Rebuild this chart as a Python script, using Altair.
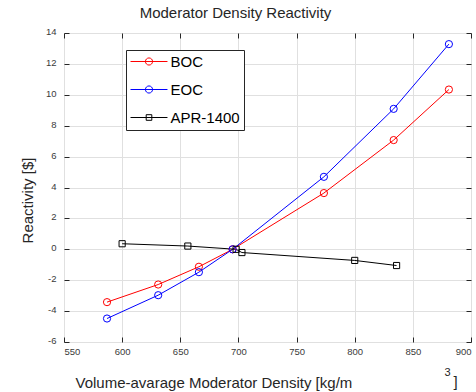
import altair as alt
import pandas as pd

# ---- data ----
series_names = ["BOC", "EOC", "APR-1400"]
series_colors = ["#ff0000", "#0000ff", "#000000"]

boc_density = [587, 631, 666, 695, 773.5, 833.5, 881]
boc_reactivity = [-3.42, -2.28, -1.13, 0.0, 3.64, 7.07, 10.34]

eoc_density = [587, 631, 666, 695, 773.5, 833.5, 881]
eoc_reactivity = [-4.48, -2.97, -1.48, 0.0, 4.69, 9.09, 13.28]

apr_density = [600, 656.5, 698, 703, 800, 836]
apr_reactivity = [0.36, 0.21, 0.0, -0.21, -0.72, -1.05]

x_ticks = [550, 600, 650, 700, 750, 800, 850, 900]
y_ticks = [-6, -4, -2, 0, 2, 4, 6, 8, 10, 12, 14]

title_text = "Moderator Density Reactivity"
x_title = "Volume-avarage Moderator Density [kg/m"
x_title_sup = "3"
x_title_close = "]"
y_title = "Reactivity [$]"

rows = []
for name, xs, ys in [("BOC", boc_density, boc_reactivity),
                     ("EOC", eoc_density, eoc_reactivity),
                     ("APR-1400", apr_density, apr_reactivity)]:
    for xv, yv in zip(xs, ys):
        rows.append({"series": name, "density": xv, "reactivity": yv})
df = pd.DataFrame(rows)

# ---- styling ----
W, H = 407, 309
FONT = "Liberation Sans"
AX = "#262626"
LBL = "#3a3a3a"
GRID = "#e0e0e0"

x_scale = alt.Scale(domain=[550, 900], nice=False, zero=False)
y_scale = alt.Scale(domain=[-6, 14], nice=False, zero=False)
color_scale = alt.Scale(domain=series_names, range=series_colors)

# legend glyphs: line segment with marker (unit = 7 px)
circle_leg = "M-2.64,0L2.64,0M0.51,0A0.51,0.51,0,1,1,-0.51,0A0.51,0.51,0,1,1,0.51,0Z"
square_leg = "M-2.64,0L2.64,0M-0.4,-0.4L0.4,-0.4L0.4,0.4L-0.4,0.4Z"
shape_scale = alt.Scale(domain=series_names, range=[circle_leg, circle_leg, square_leg])

hyphen_labels = "datum.value + ''"

x_main_axis = alt.Axis(
    orient="bottom", values=x_ticks, offset=-5, tickSize=5, tickColor=AX,
    domain=False, grid=True, gridColor=GRID, gridWidth=1,
    labelFontSize=9.5, labelColor=LBL, labelFont=FONT, labelPadding=4,
    labelExpr=hyphen_labels,
    title=x_title, titleFont=FONT, titleFontSize=15, titleFontWeight="normal",
    titleColor=AX, titleAlign="left", titleX=11, titleY=50, titleBaseline="alphabetic",
)
y_main_axis = alt.Axis(
    orient="left", values=y_ticks, offset=-5, tickSize=5, tickColor=AX,
    domain=False, grid=True, gridColor=GRID, gridWidth=1,
    labelFontSize=9.5, labelColor=LBL, labelFont=FONT, labelPadding=8,
    labelOffset=-1.5, labelExpr=hyphen_labels,
    title=y_title, titleFont=FONT, titleFontSize=15, titleFontWeight="normal",
    titleColor=AX, titleAngle=-90, titleAlign="center", titleBaseline="alphabetic",
    titleX=-37, titleY=167,
)
x_top_axis = alt.Axis(orient="top", values=x_ticks, offset=-5, tickSize=5, tickColor=AX,
                      domain=False, grid=False, labels=False, title=None)
y_right_axis = alt.Axis(orient="right", values=y_ticks, offset=-5, tickSize=5, tickColor=AX,
                        domain=False, grid=False, labels=False, title=None)

base = alt.Chart(df)

pad_expr = "datum.label + '" + "\u00a0" * 12 + "'"
leg = alt.Legend(title=None, labelExpr=pad_expr)

lines = base.mark_line(strokeWidth=1).encode(
    x=alt.X("density:Q", scale=x_scale, axis=x_main_axis),
    y=alt.Y("reactivity:Q", scale=y_scale, axis=y_main_axis),
    color=alt.Color("series:N", scale=color_scale, legend=leg),
    detail="series:N",
)

circles = base.transform_filter(alt.datum.series != "APR-1400").mark_point(
    shape="circle", size=52, strokeWidth=1, filled=False, opacity=1
).encode(
    x=alt.X("density:Q", scale=x_scale, axis=x_top_axis),
    y=alt.Y("reactivity:Q", scale=y_scale, axis=y_right_axis),
    color=alt.Color("series:N", scale=color_scale, legend=leg),
)

squares = base.transform_filter(alt.datum.series == "APR-1400").mark_point(
    shape="square", size=38, strokeWidth=1, filled=False, opacity=1
).encode(
    x=alt.X("density:Q", scale=x_scale, axis=None),
    y=alt.Y("reactivity:Q", scale=y_scale, axis=None),
    color=alt.Color("series:N", scale=color_scale, legend=leg),
)

legend_layer = base.transform_filter("false").mark_point(filled=False, opacity=1).encode(
    color=alt.Color("series:N", scale=color_scale, legend=leg),
    shape=alt.Shape("series:N", scale=shape_scale, legend=leg),
)

notes = alt.Chart(pd.DataFrame({"t": [x_title_sup]})).mark_text(
    font=FONT, fontSize=11, color=AX, align="center", baseline="alphabetic"
).encode(text="t:N", x=alt.value(383.5), y=alt.value(343))

notes2 = alt.Chart(pd.DataFrame({"t": [x_title_close]})).mark_text(
    font=FONT, fontSize=15, color=AX, align="center", baseline="alphabetic"
).encode(text="t:N", x=alt.value(391.5), y=alt.value(354))

chart = alt.layer(legend_layer, lines, circles, squares, notes, notes2).resolve_axis(
    x="independent", y="independent"
).properties(
    width=W, height=H,
    title=alt.TitleParams(title_text, font=FONT, fontSize=15, fontWeight="normal",
                          color=AX, anchor="middle", dx=-32, offset=6),
    autosize=alt.AutoSizeParams(type="none"),
    padding={"left": 64, "top": 33, "right": 5, "bottom": 50},
).configure_view(
    stroke=AX, strokeWidth=1, fill="white"
).configure(background="white").configure_legend(
    orient="none", legendX=62, legendY=17, padding=4,
    strokeColor=AX, fillColor="white",
    labelFont=FONT, labelFontSize=15, labelColor="#000000",
    symbolSize=196, symbolStrokeWidth=1, symbolOffset=11.5, labelOffset=14,
    rowPadding=12, symbolFillColor="transparent",
)

chart.save("out.html", embed_options={"renderer": "svg", "actions": False})
